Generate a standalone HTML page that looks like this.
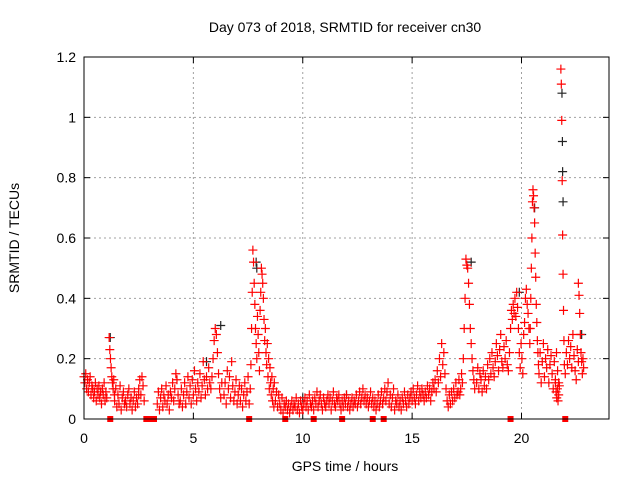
<!DOCTYPE html>
<html><head><meta charset="utf-8"><style>
body{margin:0;background:#fff}
svg{display:block;font-family:"Liberation Sans",sans-serif}
</style></head><body>
<svg id="c" width="640" height="480" viewBox="0 0 640 480">
<g id="grid"></g>
<g id="axes"></g>
<g id="black"></g>
<g id="red"></g>
<g id="sq"></g>
<rect x="84" y="57" width="525" height="362" fill="none" stroke="#000" stroke-width="1"/>
<text x="345" y="32" text-anchor="middle" font-size="14">Day 073 of 2018, SRMTID for receiver cn30</text>
<text x="345" y="471" text-anchor="middle" font-size="14">GPS time / hours</text>
<text x="19" y="238" text-anchor="middle" font-size="14" transform="rotate(-90 19 238)">SRMTID / TECUs</text>
</svg>
<script>
const xTicks=[0,5,10,15,20];
const yTicks=[0,0.2,0.4,0.6,0.8,1,1.2];
const yTickLabels=["0","0.2","0.4","0.6","0.8","1","1.2"];
const segments=[
{t0:0,dt:0.04,v:[0.14,0.12,0.15,0.1,0.13,0.09,0.12,0.14,0.08,0.11,0.1,0.07,0.09,0.12,0.06,0.1,0.08,0.11,0.07,0.09,0.05,0.1,0.08,0.12,0.06,0.09,0.07]},
{t0:1.15,dt:0.03,v:[0.27,0.23,0.2,0.17,0.14,0.12,0.1,0.13,0.08]},
{t0:1.4,dt:0.05,v:[0.06,0.1,0.04,0.08,0.05,0.11,0.03,0.07,0.09,0.05,0.06,0.04,0.08,0.1,0.05,0.07,0.03,0.06,0.09,0.04,0.07,0.05,0.08]},
{t0:2.5,dt:0.05,v:[0.1,0.13,0.08,0.14,0.11,0.06]},
{t0:3.35,dt:0.05,v:[0.05,0.09,0.03,0.07,0.1,0.04,0.08,0.06,0.11,0.05,0.08,0.03,0.09,0.07,0.12,0.06,0.1,0.15,0.13,0.08,0.05]},
{t0:4.4,dt:0.05,v:[0.06,0.1,0.04,0.08,0.12,0.05,0.09,0.14,0.07,0.11,0.05,0.13,0.08,0.16,0.1,0.06,0.12,0.09,0.15,0.07,0.11,0.19,0.13,0.08,0.14,0.1,0.17,0.12]},
{t0:5.8,dt:0.05,v:[0.1,0.14,0.2,0.26,0.3,0.28,0.22,0.15,0.1,0.07,0.12]},
{t0:6.4,dt:0.05,v:[0.08,0.12,0.05,0.16,0.1,0.14,0.07,0.19,0.11,0.06,0.09,0.13,0.05,0.08,0.11,0.06,0.1,0.04,0.08,0.12,0.06,0.09,0.14,0.05]},
{t0:7.6,dt:0.03,v:[0.1,0.18,0.3,0.42,0.56,0.52,0.45,0.38,0.3,0.25,0.2,0.34,0.28,0.22,0.16,0.36,0.42,0.5,0.48,0.45,0.4,0.33,0.26,0.3,0.22,0.18,0.25,0.14,0.2,0.1,0.17,0.12,0.08,0.14,0.06,0.1,0.04]},
{t0:8.7,dt:0.05,v:[0.12,0.06,0.09,0.04,0.08,0.05,0.03,0.07,0.02,0.05,0.04,0.06,0.03,0.05,0.02,0.04,0.06,0.03,0.05,0.04,0.07,0.03,0.05,0.02,0.06,0.04,0.03,0.05,0.07,0.04,0.06,0.03,0.08,0.05,0.04,0.06,0.03,0.07,0.05,0.09,0.04,0.06,0.08,0.05,0.03,0.07,0.05,0.04,0.06,0.08,0.05,0.07,0.03,0.06,0.09,0.05,0.04,0.07,0.06,0.08,0.05,0.03,0.06,0.04,0.07,0.05,0.08,0.04,0.06,0.03,0.05,0.07,0.04,0.06,0.05,0.08,0.04,0.06,0.09,0.05,0.07,0.1,0.06,0.08,0.05,0.07,0.04,0.06,0.09,0.05,0.07,0.04,0.06,0.03,0.05,0.08,0.04,0.06,0.09,0.05]},
{t0:13.7,dt:0.05,v:[0.07,0.1,0.06,0.09,0.12,0.05,0.08,0.04,0.07,0.1,0.03,0.06,0.05,0.08,0.04,0.06,0.03,0.07,0.05,0.09,0.06,0.04,0.08,0.05,0.07,0.09,0.06,0.1,0.07,0.05,0.08,0.11,0.06,0.09,0.07,0.1,0.08,0.06,0.09,0.07,0.11,0.08,0.1,0.06,0.09,0.12]},
{t0:16.0,dt:0.05,v:[0.1,0.13,0.09,0.16,0.12,0.2,0.14,0.25,0.18,0.22,0.15,0.1,0.06,0.04,0.08,0.05,0.09,0.06,0.1,0.07,0.12,0.08]},
{t0:17.1,dt:0.04,v:[0.09,0.13,0.08,0.1,0.15,0.12,0.2,0.3,0.4,0.53,0.51,0.5,0.45,0.38,0.3,0.25,0.2,0.16,0.13,0.1]},
{t0:17.95,dt:0.05,v:[0.12,0.17,0.1,0.15,0.13,0.09,0.16,0.11,0.14,0.1,0.18,0.13,0.2,0.15,0.22,0.17,0.14,0.19,0.25,0.21,0.16,0.23,0.28,0.19,0.17,0.24,0.2,0.26,0.18,0.16,0.22]},
{t0:19.5,dt:0.04,v:[0.3,0.36,0.33,0.38,0.35,0.4,0.34,0.42,0.37,0.3,0.22,0.17,0.25,0.2,0.15,0.28,0.32,0.4,0.43,0.38,0.35,0.3,0.25]},
{t0:20.4,dt:0.025,v:[0.3,0.4,0.5,0.6,0.72,0.76,0.74,0.7,0.65,0.55,0.47,0.38,0.32,0.26,0.22,0.18]},
{t0:20.8,dt:0.05,v:[0.15,0.22,0.12,0.19,0.25,0.14,0.2,0.17,0.23,0.12,0.18,0.21,0.15,0.1,0.19,0.13,0.22,0.16,0.12]},
{t0:21.55,dt:0.03,v:[0.12,0.09,0.07,0.1,0.06,0.08,0.11]},
{t0:21.8,dt:0.02,v:[1.16,1.11,0.99,0.79,0.61,0.48,0.36,0.26,0.18]},
{t0:22.0,dt:0.05,v:[0.15,0.22,0.18,0.26,0.2,0.24,0.17,0.28,0.21,0.16,0.13,0.23,0.19]},
{t0:22.6,dt:0.03,v:[0.45,0.41,0.35,0.28,0.22,0.19,0.15,0.2,0.17]}
];
const blackT=[21.85,21.87,21.88,21.9,7.87,7.9,6.25,1.2,22.75,17.7,19.9,20.6,5.6,10,12];
const blackV=[1.08,0.92,0.82,0.72,0.52,0.5,0.31,0.27,0.28,0.52,0.42,0.7,0.19,0.07,0.08];
const gapT=[1.2,2.85,3.0,3.1,3.2,7.55,9.2,10.5,11.8,13.2,13.7,19.5,22.0];

const NS="http://www.w3.org/2000/svg";
const X0=84,X1=609,Y0=419,Y1=57;
const xs=t=>X0+(t/24)*(X1-X0);
const ys=v=>Y0-(v/1.2)*(Y0-Y1);
function mk(tag,attrs,parent){const e=document.createElementNS(NS,tag);for(const k in attrs)e.setAttribute(k,attrs[k]);parent.appendChild(e);return e;}
const grid=document.getElementById('grid'),axes=document.getElementById('axes');
xTicks.forEach(t=>{
 const x=xs(t);
 if(t>0){const g=mk('line',{x1:x,x2:x,y1:Y1,y2:Y0,stroke:'#a0a0a0','stroke-dasharray':'2,3'},grid);
 
 }
 mk('line',{x1:x,x2:x,y1:Y0,y2:Y0-6,stroke:'#000'},axes);
 mk('line',{x1:x,x2:x,y1:Y1,y2:Y1+6,stroke:'#000'},axes);
 const l=mk('text',{x:x,y:443,'text-anchor':'middle','font-size':'14'},axes);l.textContent=t;
 
 
});
yTicks.forEach((v,i)=>{
 const y=ys(v);
 if(v>0&&v<1.2){const g=mk('line',{x1:X0,x2:X1,y1:y,y2:y,stroke:'#a0a0a0','stroke-dasharray':'2,3'},grid);
 
 }
 mk('line',{x1:X0,x2:X0+6,y1:y,y2:y,stroke:'#000'},axes);
 mk('line',{x1:X1,x2:X1-6,y1:y,y2:y,stroke:'#000'},axes);
 const l=mk('text',{x:76,y:y+5,'text-anchor':'end','font-size':'14'},axes);l.textContent=yTickLabels[i];
 
 
});
function plus(g,t,v,col,name){
 const x=xs(t),y=ys(v);
 const p=mk('path',{d:`M${x-4.5},${y}H${x+4.5}M${x},${y-4.5}V${y+4.5}`,stroke:col,'stroke-width':'1.2',fill:'none'},g);
 
 
}
const bg=document.getElementById('black');
blackT.forEach((t,i)=>plus(bg,t,blackV[i],'#222','black-point'));
const rg=document.getElementById('red');
segments.forEach(s=>s.v.forEach((v,i)=>plus(rg,s.t0+i*s.dt,v,'#ff0000','red-point')));
const sg=document.getElementById('sq');
gapT.forEach(t=>{
 const r=mk('rect',{x:xs(t)-3,y:Y0-3,width:6,height:6,fill:'#ff0000'},sg);
 
 
});
</script>
</body></html>
